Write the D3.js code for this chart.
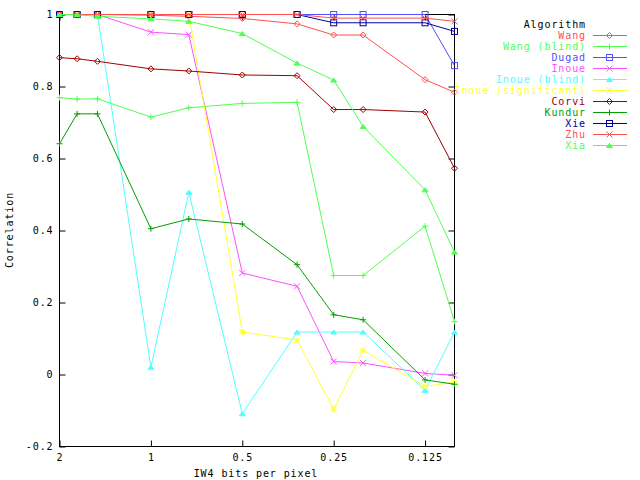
<!DOCTYPE html>
<html><head><meta charset="utf-8">
<script src="https://cdn.jsdelivr.net/npm/d3@7"></script>
<style>body{margin:0;background:#fff}svg{display:block}text{font-family:"DejaVu Sans Mono",monospace;font-size:10px;letter-spacing:0.9px}</style>
</head><body><svg id="c" width="640" height="480"></svg>
<script>
const bitsPerPixel = [2, 1.75, 1.5, 1, 0.75, 0.5, 0.33, 0.25, 0.2, 0.125, 0.1];
const xTicks = [2, 1, 0.5, 0.25, 0.125];
const xTickLabels = ["2", "1", "0.5", "0.25", "0.125"];
const yTicks = [-0.2, 0, 0.2, 0.4, 0.6, 0.8, 1];
const yTickLabels = ["-0.2", "0", "0.2", "0.4", "0.6", "0.8", "1"];

const wang        = [1, 1, 1, 0.998, 0.995, 0.989, 0.974, 0.943, 0.943, 0.819, 0.784];
const wangBlind   = [0.769, 0.765, 0.766, 0.715, 0.741, 0.753, 0.756, 0.275, 0.275, 0.412, 0.147];
const dugad       = [1, 1, 1, 1, 1, 1, 1, 1, 1, 1, 0.858];
const inoue       = [1, 1, 1, 0.951, 0.944, 0.282, 0.245, 0.036, 0.032, 0.003, -0.002];
const inoueBlind  = [1, 1, 1, 0.020, 0.506, -0.109, 0.118, 0.118, 0.118, -0.044, 0.118];
const inoueSig    = [1, 1, 1, 1, 1, 0.118, 0.096, -0.097, 0.067, -0.033, -0.021];
const corvi       = [0.880, 0.877, 0.870, 0.849, 0.843, 0.832, 0.830, 0.736, 0.736, 0.729, 0.573];
const kundur      = [0.641, 0.724, 0.724, 0.405, 0.432, 0.418, 0.305, 0.166, 0.152, -0.015, -0.027];
const xie         = [1, 1, 1, 1, 1, 1, 1, 0.977, 0.977, 0.977, 0.953];
const zhu         = [1, 1, 1, 1, 1, 1, 1, 0.990, 0.990, 0.990, 0.981];
const xia         = [1, 0.999, 0.995, 0.988, 0.981, 0.947, 0.865, 0.818, 0.689, 0.513, 0.340];

const seriesNames  = ["Wang", "Wang (blind)", "Dugad", "Inoue", "Inoue (blind)", "Inoue (significant)", "Corvi", "Kundur", "Xie", "Zhu", "Xia"];
const seriesValues = [wang, wangBlind, dugad, inoue, inoueBlind, inoueSig, corvi, kundur, xie, zhu, xia];
const seriesColors = ["#ff5050", "#50ff50", "#5050ff", "#ff50ff", "#50ffff", "#ffff30", "#a00000", "#00a000", "#0000a0", "#ff5050", "#50ff50"];
const seriesMarks  = ["diamond", "plus", "square", "cross", "triangle", "star", "diamond", "plus", "square", "cross", "triangle"];

const svg = d3.select("#c");
const L = 59, R = 454, T = 14, B = 446;
const x = d3.scaleLog().domain([2, 0.1]).range([L, R]);
const y = d3.scaleLinear().domain([-0.2, 1]).range([B, T]);

// border
svg.append("rect").attr("x", L + 0.5).attr("y", T + 0.5).attr("width", R - L).attr("height", B - T)
  .attr("fill", "none").attr("stroke", "#000").attr("stroke-width", 1);

// axes
const gl = svg.append("g").attr("transform", `translate(${L + 0.5},0.5)`)
  .call(d3.axisLeft(y).tickValues(yTicks).tickFormat((d, i) => yTickLabels[i]).tickSizeInner(-6).tickSizeOuter(0).tickPadding(6));
const gr = svg.append("g").attr("transform", `translate(${R + 0.5},0.5)`)
  .call(d3.axisRight(y).tickValues(yTicks).tickFormat("").tickSizeInner(-6).tickSizeOuter(0));
const gb = svg.append("g").attr("transform", `translate(0.5,${B + 0.5})`)
  .call(d3.axisBottom(x).tickValues(xTicks).tickFormat((d, i) => xTickLabels[i]).tickSizeInner(-6).tickSizeOuter(0).tickPadding(7));
const gt = svg.append("g").attr("transform", `translate(0.5,${T + 0.5})`)
  .call(d3.axisTop(x).tickValues(xTicks).tickFormat("").tickSizeInner(-6).tickSizeOuter(0));
[gl, gr, gb, gt].forEach(g => {
  g.select(".domain").remove();
  g.selectAll("text").attr("fill", "#000").style("font-family", '"DejaVu Sans Mono",monospace').style("font-size", "10px");
  g.selectAll("line").attr("stroke", "#000");
});
gl.selectAll("text").attr("x", -6);

svg.append("text").attr("x", 256).attr("y", 477).attr("text-anchor", "middle").text("IW4 bits per pixel");
svg.append("text").attr("transform", "translate(13,230) rotate(-90)").attr("text-anchor", "middle").text("Correlation");

function marker(g, type, cx, cy, color) {
  const s = 3;
  if (type === "diamond") {
    g.append("path").attr("d", `M${cx - s},${cy}L${cx},${cy - s}L${cx + s},${cy}L${cx},${cy + s}Z`).attr("fill", "none").attr("stroke", color);
  } else if (type === "plus") {
    g.append("path").attr("d", `M${cx - s},${cy}H${cx + s}M${cx},${cy - s}V${cy + s}`).attr("stroke", color);
  } else if (type === "square") {
    g.append("rect").attr("x", cx - s).attr("y", cy - s).attr("width", 2 * s).attr("height", 2 * s).attr("fill", "none").attr("stroke", color);
  } else if (type === "cross") {
    g.append("path").attr("d", `M${cx - s},${cy - s}L${cx + s},${cy + s}M${cx - s},${cy + s}L${cx + s},${cy - s}`).attr("stroke", color);
  } else if (type === "triangle") {
    g.append("path").attr("d", `M${cx - s},${cy + 2}L${cx},${cy - s + 1}L${cx + s},${cy + 2}Z`).attr("fill", color).attr("stroke", color);
  } else if (type === "star") {
    g.append("path").attr("d", `M${cx - s},${cy}H${cx + s}M${cx},${cy - s}V${cy + s}M${cx - s},${cy - s}L${cx + s},${cy + s}M${cx - s},${cy + s}L${cx + s},${cy - s}`).attr("stroke", color);
  }
}

const line = d3.line().x(d => x(d[0]) + 0.5).y(d => y(d[1]) + 0.5);
seriesValues.forEach((vals, i) => {
  const g = svg.append("g");
  const pts = bitsPerPixel.map((b, j) => [b, vals[j]]);
  g.append("path").attr("d", line(pts)).attr("fill", "none").attr("stroke", seriesColors[i]).attr("stroke-width", 1);
  pts.forEach(p => marker(g, seriesMarks[i], x(p[0]) + 0.5, y(p[1]) + 0.5, seriesColors[i]));
});

// legend
const lg = svg.append("g");
lg.append("text").attr("x", 586).attr("y", 24).attr("dy", "0.35em").attr("text-anchor", "end").attr("fill", "#000").text("Algorithm");
seriesNames.forEach((n, i) => {
  const yy = 35 + i * 11;
  lg.append("text").attr("x", 586).attr("y", yy).attr("dy", "0.35em").attr("text-anchor", "end").attr("fill", seriesColors[i]).text(n);
  lg.append("line").attr("x1", 593).attr("x2", 627).attr("y1", yy + 0.5).attr("y2", yy + 0.5).attr("stroke", seriesColors[i]);
  marker(lg, seriesMarks[i], 609.5, yy + 0.5, seriesColors[i]);
});
</script></body></html>
